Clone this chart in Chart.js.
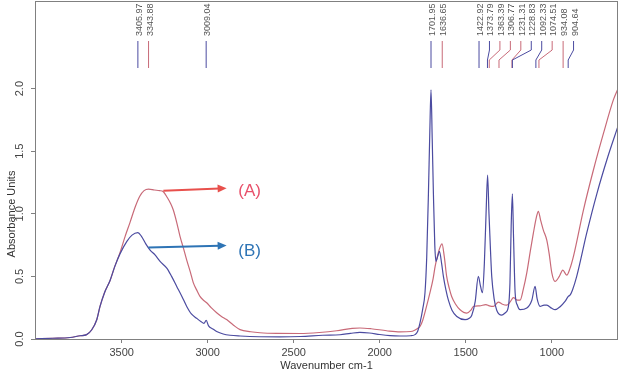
<!DOCTYPE html>
<html>
<head>
<meta charset="utf-8">
<script src="https://cdn.jsdelivr.net/npm/chart.js@4"></script>
<style>
body { margin: 0; background: #fff; }
#wrap { width: 621px; height: 374px; }
</style>
</head>
<body>
<div id="wrap"><canvas id="myChart" width="621" height="374"></canvas></div>
<script>
// spectrum (B), blue
let wnB = [4000, 3900, 3800, 3742, 3704, 3674, 3645, 3626, 3600, 3567, 3540, 3510, 3470, 3440, 3406, 3385, 3360, 3335, 3305, 3277, 3238, 3210, 3180, 3150, 3122, 3095, 3064, 3040, 3022, 3009, 2995, 2970, 2948, 2910, 2870, 2812, 2700, 2580, 2460, 2330, 2231, 2170, 2115, 2060, 2000, 1940, 1882, 1820, 1795, 1780, 1766, 1750, 1737, 1727, 1717, 1709, 1702, 1695, 1688, 1680, 1673, 1663, 1653, 1640, 1630, 1615, 1601, 1580, 1552, 1504, 1480, 1465, 1445, 1427, 1414, 1403, 1392, 1382, 1373, 1365, 1356, 1349, 1335, 1320, 1291, 1270, 1252, 1243, 1236, 1229, 1222, 1213, 1200, 1184, 1145, 1116, 1097, 1085, 1068, 1045, 1029, 1000, 981, 950, 923, 904, 894, 880, 855, 797, 738, 680, 615];
let absB = [0.002, 0.006, 0.012, 0.026, 0.035, 0.074, 0.154, 0.26, 0.37, 0.47, 0.58, 0.68, 0.78, 0.83, 0.85, 0.82, 0.76, 0.71, 0.67, 0.62, 0.566, 0.50, 0.42, 0.34, 0.26, 0.20, 0.165, 0.14, 0.125, 0.148, 0.105, 0.08, 0.06, 0.04, 0.03, 0.024, 0.018, 0.017, 0.02, 0.03, 0.034, 0.045, 0.053, 0.048, 0.036, 0.027, 0.024, 0.026, 0.035, 0.06, 0.128, 0.24, 0.37, 0.65, 1.16, 1.65, 1.99, 1.6, 1.16, 0.75, 0.62, 0.66, 0.70, 0.60, 0.50, 0.39, 0.31, 0.23, 0.18, 0.154, 0.165, 0.19, 0.30, 0.50, 0.42, 0.37, 0.60, 1.0, 1.31, 1.0, 0.70, 0.50, 0.32, 0.23, 0.19, 0.21, 0.26, 0.45, 0.9, 1.16, 0.8, 0.37, 0.27, 0.234, 0.247, 0.31, 0.42, 0.32, 0.26, 0.27, 0.27, 0.245, 0.234, 0.26, 0.30, 0.34, 0.35, 0.39, 0.50, 0.845, 1.16, 1.43, 1.70];

// spectrum (A), red
let wnA = [4000, 3900, 3800, 3742, 3704, 3674, 3645, 3626, 3600, 3567, 3540, 3510, 3480, 3452, 3420, 3395, 3370, 3344, 3310, 3280, 3258, 3235, 3215, 3200, 3180, 3161, 3140, 3122, 3100, 3084, 3060, 3045, 3025, 3006, 2980, 2948, 2920, 2890, 2850, 2812, 2750, 2696, 2600, 2463, 2350, 2250, 2160, 2115, 2050, 1960, 1882, 1820, 1800, 1780, 1766, 1750, 1730, 1708, 1690, 1678, 1665, 1653, 1638, 1625, 1611, 1595, 1582, 1560, 1533, 1494, 1470, 1456, 1420, 1383, 1363, 1340, 1310, 1290, 1262, 1240, 1223, 1200, 1184, 1165, 1145, 1125, 1107, 1090, 1078, 1065, 1049, 1029, 1015, 1000, 981, 956, 936, 913, 895, 874, 816, 758, 700, 642, 615];
let absA = [0.002, 0.006, 0.012, 0.026, 0.035, 0.074, 0.154, 0.26, 0.37, 0.47, 0.58, 0.69, 0.82, 0.93, 1.06, 1.14, 1.185, 1.197, 1.19, 1.185, 1.177, 1.13, 1.08, 1.03, 0.93, 0.82, 0.72, 0.63, 0.53, 0.45, 0.38, 0.34, 0.31, 0.29, 0.25, 0.21, 0.18, 0.155, 0.11, 0.075, 0.058, 0.05, 0.045, 0.044, 0.052, 0.066, 0.085, 0.088, 0.082, 0.066, 0.057, 0.06, 0.068, 0.085, 0.10, 0.15, 0.25, 0.37, 0.48, 0.58, 0.66, 0.72, 0.76, 0.66, 0.50, 0.40, 0.34, 0.28, 0.234, 0.207, 0.23, 0.26, 0.265, 0.275, 0.265, 0.26, 0.295, 0.28, 0.27, 0.30, 0.33, 0.31, 0.31, 0.40, 0.53, 0.70, 0.845, 0.97, 1.02, 0.95, 0.87, 0.79, 0.68, 0.53, 0.46, 0.50, 0.55, 0.51, 0.56, 0.66, 1.03, 1.35, 1.64, 1.91, 2.0];

let xTicks = [3500, 3000, 2500, 2000, 1500, 1000];
let yTicks = [0, 0.5, 1.0, 1.5, 2.0];

// picked peaks at the top
let peakWn = [3405.97, 3343.88, 3009.04, 1701.95, 1636.65, 1422.92, 1373.79, 1363.39, 1306.77, 1231.31, 1228.83, 1092.33, 1074.51, 934.08, 904.64];
let peakLbl = ['3405.97', '3343.88', '3009.04', '1701.95', '1636.65', '1422.92', '1373.79', '1363.39', '1306.77', '1231.31', '1228.83', '1092.33', '1074.51', '934.08', '904.64'];
let peakSer = ['B', 'A', 'B', 'B', 'A', 'B', 'B', 'A', 'A', 'A', 'B', 'B', 'A', 'A', 'B'];

// (A) / (B) call-outs, in data units
let noteLbl = ['(A)', '(B)'];
let noteFrom = [[3258, 1.185], [3345, 0.73]];
let noteTo = [[2890, 1.204], [2890, 0.746]];
let noteAt = [[2822, 1.177], [2822, 0.70]];

const blue = '#4b4ba0', red = '#c86a78';
const noteCol = ['#e8506a', '#2e74b5'];
const arrowCol = ['#e8504c', '#2e74b5'];
const axisCol = '#808080', txtCol = '#444';
const fam = '"Liberation Sans", Arial, sans-serif';

function pts(wn, ab) {
    return wn.map((w, i) => ({ x: w, y: ab[i] }));
}

const extras = {
    id: 'extras',
    afterDatasetsDraw(chart) {
        const ctx = chart.ctx, xs = chart.scales.x, ys = chart.scales.y;
        ctx.save();
        // peak labels with leader lines
        ctx.font = '9px ' + fam;
        ctx.lineWidth = 1;
        let prev = -1e9;
        peakWn.forEach((w, i) => {
            let px = xs.getPixelForValue(w);
            let lx = Math.max(px, prev + 10.45);
            prev = lx;
            ctx.strokeStyle = peakSer[i] == 'A' ? red : blue;
            ctx.beginPath();
            ctx.moveTo(lx, 41); ctx.lineTo(lx, 50);
            ctx.lineTo(px, 60); ctx.lineTo(px, 68);
            ctx.stroke();
            ctx.save();
            ctx.translate(lx + 1.5, 36);
            ctx.rotate(-Math.PI / 2);
            ctx.fillStyle = '#555';
            ctx.textAlign = 'left';
            ctx.textBaseline = 'middle';
            ctx.fillText(peakLbl[i], 0, 0);
            ctx.restore();
        });
        // arrows + (A) (B)
        noteLbl.forEach((t, i) => {
            let x1 = xs.getPixelForValue(noteFrom[i][0]), y1 = ys.getPixelForValue(noteFrom[i][1]);
            let x2 = xs.getPixelForValue(noteTo[i][0]), y2 = ys.getPixelForValue(noteTo[i][1]);
            let ang = Math.atan2(y2 - y1, x2 - x1);
            ctx.strokeStyle = arrowCol[i];
            ctx.fillStyle = arrowCol[i];
            ctx.lineWidth = 2;
            ctx.beginPath();
            ctx.moveTo(x1, y1);
            ctx.lineTo(x2 - 7 * Math.cos(ang), y2 - 7 * Math.sin(ang));
            ctx.stroke();
            ctx.beginPath();
            ctx.moveTo(x2, y2);
            ctx.lineTo(x2 - 9 * Math.cos(ang) + 4 * Math.sin(ang), y2 - 9 * Math.sin(ang) - 4 * Math.cos(ang));
            ctx.lineTo(x2 - 9 * Math.cos(ang) - 4 * Math.sin(ang), y2 - 9 * Math.sin(ang) + 4 * Math.cos(ang));
            ctx.closePath();
            ctx.fill();
            ctx.font = '17px ' + fam;
            ctx.fillStyle = noteCol[i];
            ctx.textAlign = 'left';
            ctx.textBaseline = 'middle';
            ctx.fillText(t, xs.getPixelForValue(noteAt[i][0]), ys.getPixelForValue(noteAt[i][1]));
        });
        ctx.restore();
    },
    afterDraw(chart) {
        const ctx = chart.ctx, a = chart.chartArea;
        ctx.save();
        ctx.strokeStyle = axisCol;
        ctx.lineWidth = 1;
        ctx.strokeRect(Math.round(a.left) + 0.5, Math.round(a.top) + 0.5, Math.round(a.right - a.left) - 1, Math.round(a.bottom - a.top));
        // y title
        ctx.translate(12, 214);
        ctx.rotate(-Math.PI / 2);
        ctx.font = '11px ' + fam;
        ctx.fillStyle = '#333';
        ctx.textAlign = 'center';
        ctx.textBaseline = 'middle';
        ctx.fillText('Absorbance Units', 0, 0);
        ctx.restore();
    }
};

const ctx = document.getElementById('myChart');
new Chart(ctx, {
    type: 'line',
    data: {
        datasets: [
            { label: 'B', data: pts(wnB, absB), borderColor: blue, borderWidth: 1.2, pointRadius: 0, fill: false, cubicInterpolationMode: 'monotone' },
            { label: 'A', data: pts(wnA, absA), borderColor: red, borderWidth: 1.2, pointRadius: 0, fill: false, cubicInterpolationMode: 'monotone' }
        ]
    },
    options: {
        responsive: false,
        animation: false,
        devicePixelRatio: 1,
        layout: { padding: { left: 0, top: 1, right: 3, bottom: 0 } },
        plugins: { legend: { display: false }, tooltip: { enabled: false } },
        scales: {
            x: {
                type: 'linear',
                reverse: true,
                min: 615,
                max: 4004,
                afterBuildTicks: s => { s.ticks = xTicks.map(v => ({ value: v })); },
                afterFit: s => { s.height = 35; s.paddingLeft = 0; s.paddingRight = 0; },
                grid: { drawOnChartArea: false, tickLength: 4, color: axisCol },
                border: { display: false },
                ticks: { maxRotation: 0, autoSkip: false, padding: 3, color: txtCol, font: { family: fam, size: 11 }, callback: v => String(v) },
                title: { display: true, text: 'Wavenumber cm-1', color: '#333', font: { family: fam, size: 11 }, padding: { top: 0, bottom: 1 } }
            },
            y: {
                min: 0,
                max: 2.7,
                afterBuildTicks: s => { s.ticks = yTicks.map(v => ({ value: v })); },
                afterFit: s => { s.width = 35; s.paddingTop = 0; s.paddingBottom = 0; },
                grid: { drawOnChartArea: false, tickLength: 4, color: axisCol },
                border: { display: false },
                ticks: { minRotation: 90, maxRotation: 90, crossAlign: 'center', padding: 3, color: txtCol, font: { family: fam, size: 11 }, callback: v => v.toFixed(1) }
            }
        }
    },
    plugins: [extras]
});
</script>
</body>
</html>
